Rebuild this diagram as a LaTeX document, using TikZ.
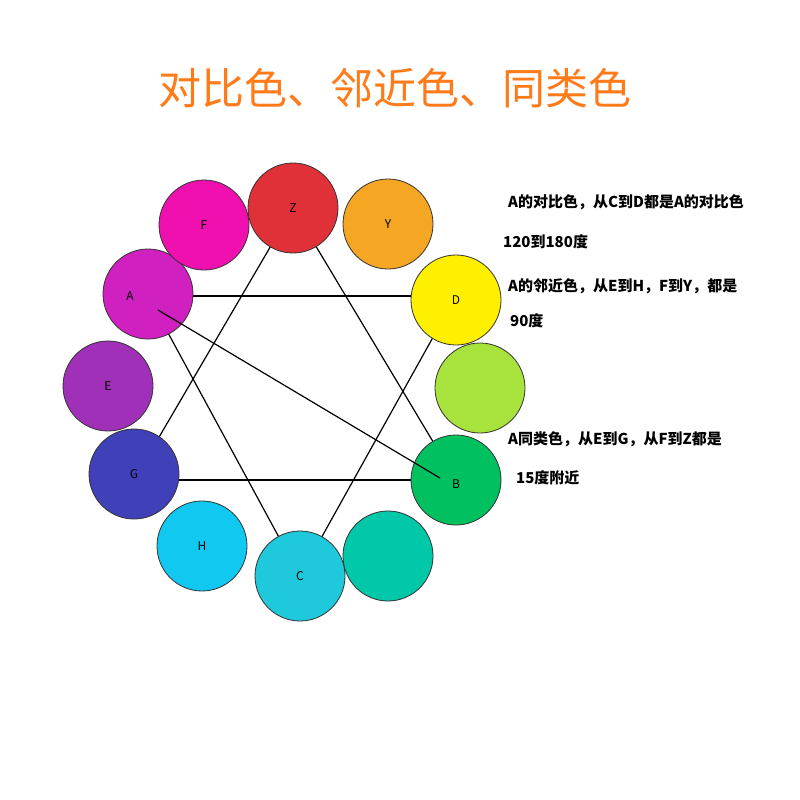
\documentclass[tikz,border=0pt]{standalone}
\usepackage{fontspec}
\setmainfont{Noto Sans CJK SC}
\begin{document}
\begin{tikzpicture}[x=1pt,y=-1pt,
  cw/.style={circle,draw=black!80,line width=0.8pt,minimum size=90pt,inner sep=0pt,font=\fontsize{12}{12}\selectfont},
  ln/.style={line width=1.2pt,black},
  note/.style={anchor=west,font=\fontsize{15}{17}\selectfont\bfseries,inner sep=0pt}]
\useasboundingbox (0,0) rectangle (800,800);
\fill[white] (0,0) rectangle (800,800);
\node[font=\fontsize{43}{43}\selectfont,text=orange!85!red!90!white] (title) at (395,88) {对比色、邻近色、同类色};
\coordinate (pZ) at (293,208); \coordinate (pD) at (456,296);
\coordinate (pB) at (456,480); \coordinate (pC) at (300,576);
\coordinate (pG) at (134,480); \coordinate (pA) at (148,296);
\draw[ln] (pA) -- (pD); \draw[ln] (pG) -- (pB);
\draw[ln] (pZ) -- (pG); \draw[ln] (pZ) -- (pB);
\draw[ln] (pA) -- (pC); \draw[ln] (pD) -- (pC);
\node[cw,fill={rgb,255:red,224;green,48;blue,56}] (Z) at (pZ) {Z};
\node[cw,fill={rgb,255:red,245;green,166;blue,35}] (Y) at (388,224) {Y};
\node[cw,fill={rgb,255:red,255;green,240;blue,0}] (D) at (456,300) {D};
\node[cw,fill={rgb,255:red,168;green,226;blue,60}] (L) at (480,388) {};
\node[cw,fill={rgb,255:red,0;green,192;blue,96}] (B) at (pB) {};
\node[font=\fontsize{12}{12}\selectfont] (Bl) at (456,484) {B};
\node[cw,fill={rgb,255:red,0;green,200;blue,168}] (T) at (388,556) {};
\node[cw,fill={rgb,255:red,32;green,200;blue,220}] (C) at (pC) {C};
\node[cw,fill={rgb,255:red,16;green,200;blue,240}] (H) at (202,546) {H};
\node[cw,fill={rgb,255:red,64;green,64;blue,184}] (G) at (134,474) {G};
\node[cw,fill={rgb,255:red,160;green,48;blue,184}] (E) at (108,386) {E};
\node[cw,fill={rgb,255:red,208;green,32;blue,192}] (A) at (148,294) {};
\node[font=\fontsize{12}{12}\selectfont] (Al) at (130,296) {A};
\node[cw,fill={rgb,255:red,240;green,16;blue,176}] (F) at (204,225) {F};
\coordinate (a1) at (158,310); \coordinate (b1) at (440,478);
\draw[ln] (a1) -- (b1);
\node[note] (t1) at (508,202) {A的对比色，从C到D都是A的对比色};
\node[note] (t2) at (503,242) {120到180度};
\node[note] (t3) at (508,286) {A的邻近色，从E到H，F到Y，都是};
\node[note] (t4) at (510,321) {90度};
\node[note] (t5) at (508,439) {A同类色，从E到G，从F到Z都是};
\node[note] (t6) at (516,478) {15度附近};
\end{tikzpicture}
\end{document}
